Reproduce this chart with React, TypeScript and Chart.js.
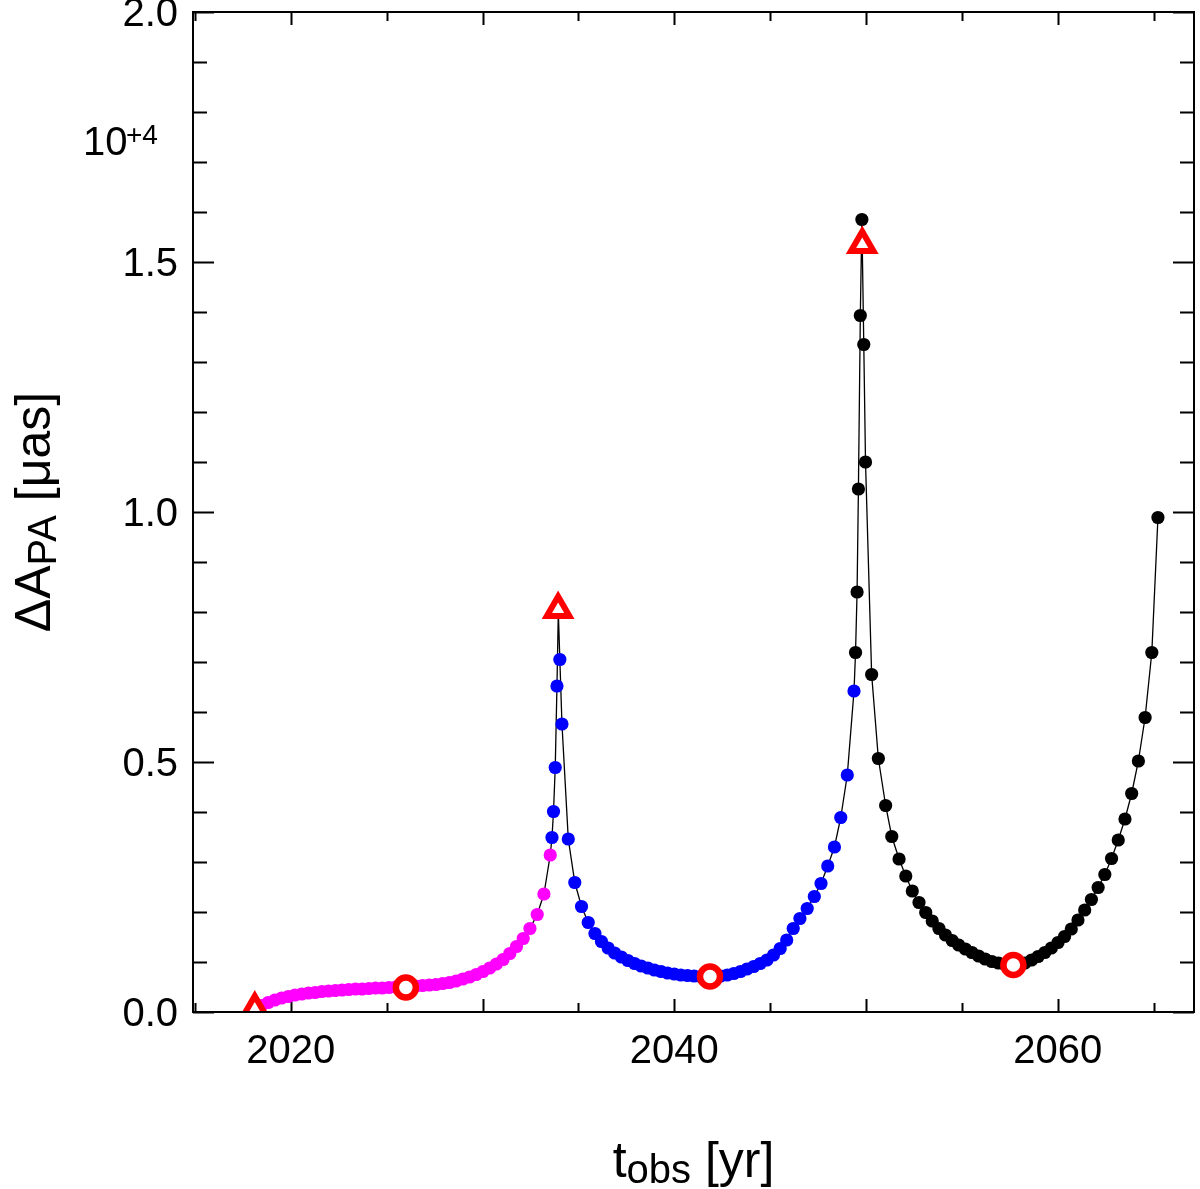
import { useEffect, useRef } from 'react';
import { Chart, registerables } from 'chart.js';

Chart.register(...registerables);

// Observation epochs t_obs [yr] and position-angle shift ΔA_PA [10^4 µas]
// First orbit segment (magenta)
const magentaT = [
  2018.12, 2018.47, 2018.82, 2019.17, 2019.52, 2019.87, 2020.22, 2020.57, 2020.92, 2021.27,
  2021.62, 2021.97, 2022.32, 2022.67, 2023.02, 2023.37, 2023.72, 2024.07, 2024.42, 2024.77,
  2025.12, 2025.47, 2025.82, 2026.17, 2026.52, 2026.87, 2027.22, 2027.57, 2027.92, 2028.27,
  2028.62, 2028.97, 2029.32, 2029.67, 2030.02, 2030.37, 2030.72, 2031.07, 2031.42, 2031.77,
  2032.12, 2032.47, 2032.85, 2033.2, 2033.53,
];
const magentaV = [
  0.007, 0.013, 0.019, 0.024, 0.028, 0.031, 0.034, 0.036, 0.038, 0.039,
  0.041, 0.042, 0.043, 0.044, 0.045, 0.046, 0.046, 0.047, 0.048, 0.048,
  0.049, 0.05, 0.05, 0.051, 0.052, 0.053, 0.054, 0.055, 0.057, 0.059,
  0.062, 0.066, 0.07, 0.075, 0.081, 0.088, 0.096, 0.105, 0.117, 0.131,
  0.147, 0.167, 0.195, 0.236, 0.314,
];

// Second orbit segment (blue)
const blueT = [
  2033.62, 2033.7, 2033.79, 2033.88, 2033.95, 2034.03, 2034.14, 2034.47, 2034.81, 2035.16,
  2035.51, 2035.86, 2036.2, 2036.55, 2036.89, 2037.24, 2037.58, 2037.93, 2038.27, 2038.62,
  2038.96, 2039.31, 2039.65, 2040.0, 2040.34, 2040.69, 2041.03, 2041.38, 2041.72, 2042.07,
  2042.41, 2042.76, 2043.1, 2043.45, 2043.79, 2044.14, 2044.48, 2044.83, 2045.17, 2045.52,
  2045.86, 2046.2, 2046.55, 2046.93, 2047.3, 2047.65, 2048.0, 2048.35, 2048.68, 2049.02,
  2049.37,
];
const blueV = [
  0.349, 0.401, 0.489, 0.652, 0.8, 0.705, 0.576, 0.346, 0.259, 0.211,
  0.179, 0.157, 0.141, 0.128, 0.118, 0.11, 0.103, 0.097, 0.092, 0.088,
  0.084, 0.081, 0.078, 0.076, 0.074, 0.073, 0.072, 0.071, 0.071, 0.071,
  0.072, 0.074, 0.077, 0.081, 0.086, 0.091, 0.097, 0.104, 0.114, 0.127,
  0.144, 0.167, 0.187, 0.207, 0.231, 0.257, 0.292, 0.33, 0.389, 0.474,
  0.642,
];

// Third orbit segment (black)
const blackT = [
  2049.45, 2049.53, 2049.6, 2049.7, 2049.78, 2049.88, 2049.97, 2050.29, 2050.64, 2051.02,
  2051.34, 2051.72, 2052.07, 2052.41, 2052.76, 2053.11, 2053.45, 2053.8, 2054.14, 2054.49,
  2054.83, 2055.18, 2055.52, 2055.87, 2056.21, 2056.56, 2056.9, 2057.25, 2057.59, 2057.94,
  2058.28, 2058.63, 2058.97, 2059.32, 2059.66, 2060.01, 2060.35, 2060.7, 2061.05, 2061.4,
  2061.75, 2062.1, 2062.45, 2062.8, 2063.15, 2063.5, 2063.85, 2064.2, 2064.55, 2064.9,
  2065.22,
];
const blackV = [
  0.719, 0.84, 1.046, 1.393, 1.585, 1.335, 1.1, 0.675, 0.507, 0.413,
  0.351, 0.306, 0.272, 0.242, 0.219, 0.199, 0.182, 0.167, 0.154, 0.143,
  0.134, 0.126, 0.119, 0.112, 0.106, 0.101, 0.098, 0.095, 0.094, 0.095,
  0.098, 0.104, 0.111, 0.119, 0.128, 0.139, 0.151, 0.166, 0.184, 0.204,
  0.225, 0.249, 0.275, 0.307, 0.344, 0.386, 0.437, 0.502, 0.589, 0.719,
  0.989,
];

// Pericentre passages (triangles) and apocentre passages (circles)
const periT = [2018.12, 2033.94, 2049.8];
const periV = [0.006, 0.805, 1.535];
const apoT = [2026.0, 2041.86, 2057.68];
const apoV = [0.049, 0.071, 0.094];

// Axis ranges and labelled ticks
const xRange = [2014.9, 2067.1];
const yRange = [0, 2.0];
const xTickLabels = [2020, 2040, 2060];
const yTickLabels = [0.0, 0.5, 1.0, 1.5, 2.0];

const FONT = '"Liberation Sans", Arial, Helvetica, sans-serif';

const pts = (t: number[], v: number[]) => t.map((x, i) => ({ x, y: v[i] }));

// Inward tick marks on all four sides plus the frame
const axisDecor = {
  id: 'axisDecor',
  beforeDatasetsDraw(chart: any) {
    const { ctx, chartArea: a, scales } = chart;
    const x = scales.x;
    const y = scales.y;
    ctx.save();
    ctx.strokeStyle = '#000';
    ctx.lineWidth = 2;
    ctx.beginPath();
    const k0 = Math.ceil(x.min / 5);
    const k1 = Math.floor(x.max / 5);
    for (let k = k0; k <= k1; k++) {
      const v = k * 5;
      const px = Math.round(x.getPixelForValue(v)) + 0.5;
      const len = v % 10 === 0 ? 13 : 9;
      ctx.moveTo(px, a.bottom);
      ctx.lineTo(px, a.bottom - len);
      ctx.moveTo(px, a.top);
      ctx.lineTo(px, a.top + len);
    }
    for (let k = 0; k <= 20; k++) {
      const py = Math.round(y.getPixelForValue(k / 10)) + 0.5;
      const len = k % 5 === 0 ? 21 : 14;
      ctx.moveTo(a.left, py);
      ctx.lineTo(a.left + len, py);
      ctx.moveTo(a.right, py);
      ctx.lineTo(a.right - len, py);
    }
    ctx.stroke();
    ctx.restore();
  },
  afterDatasetsDraw(chart: any) {
    const { ctx, chartArea: a } = chart;
    ctx.save();
    ctx.strokeStyle = '#000';
    ctx.lineWidth = 2;
    ctx.strokeRect(a.left, a.top, a.right - a.left, a.bottom - a.top);
    ctx.restore();
  },
};

// Draws a run of [text, size, shift] pieces along the baseline
function drawRun(ctx: CanvasRenderingContext2D, parts: [string, number, number][], startX: number) {
  let cx = startX;
  for (const [txt, size, shift] of parts) {
    ctx.font = `${size}px ${FONT}`;
    ctx.fillText(txt, cx, shift);
    cx += ctx.measureText(txt).width;
  }
}
function runWidth(ctx: CanvasRenderingContext2D, parts: [string, number, number][]) {
  let w = 0;
  for (const [txt, size] of parts) {
    ctx.font = `${size}px ${FONT}`;
    w += ctx.measureText(txt).width;
  }
  return w;
}

// Axis titles and the 10^+4 multiplier
const titles = {
  id: 'titles',
  afterDraw(chart: any) {
    const { ctx, chartArea: a } = chart;
    ctx.save();
    ctx.fillStyle = '#000';
    ctx.textBaseline = 'alphabetic';
    ctx.textAlign = 'left';

    // multiplier
    ctx.font = `40px ${FONT}`;
    ctx.fillText('10', 83, 155);
    ctx.font = `28px ${FONT}`;
    ctx.fillText('+4', 126, 144);

    // x title
    const xParts: [string, number, number][] = [
      ['t', 50, 0],
      ['obs', 40, 6],
      [' [yr]', 50, 0],
    ];
    const xw = runWidth(ctx, xParts);
    ctx.save();
    ctx.translate((a.left + a.right) / 2, 1177);
    drawRun(ctx, xParts, -xw / 2);
    ctx.restore();

    // y title
    const yParts: [string, number, number][] = [
      ['ΔA', 50, 0],
      ['PA', 40, 6],
      [' [μas]', 50, 0],
    ];
    const yw = runWidth(ctx, yParts);
    ctx.save();
    ctx.translate(50, (a.top + a.bottom) / 2);
    ctx.rotate(-Math.PI / 2);
    drawRun(ctx, yParts, -yw / 2);
    ctx.restore();

    ctx.restore();
  },
};

export default function App() {
  const ref = useRef<HTMLCanvasElement | null>(null);

  useEffect(() => {
    if (!ref.current) return;
    const dots = (data: any[], color: string) => ({
      data,
      showLine: false,
      pointRadius: 6.6,
      pointBorderWidth: 0,
      pointBackgroundColor: color,
      pointBorderColor: color,
      clip: 0,
      order: 2,
    });
    const track = [
      ...pts(magentaT, magentaV),
      ...pts(blueT, blueV),
      ...pts(blackT, blackV),
    ];
    const chart = new Chart(ref.current, {
      type: 'scatter',
      data: {
        datasets: [
          {
            data: pts(periT, periV),
            showLine: false,
            pointStyle: 'triangle',
            pointRadius: 13,
            pointBorderWidth: 6,
            pointBorderColor: '#ff0000',
            pointBackgroundColor: '#ffffff',
            clip: 0,
            order: 0,
          } as any,
          {
            data: pts(apoT, apoV),
            showLine: false,
            pointStyle: 'circle',
            pointRadius: 10,
            pointBorderWidth: 6.5,
            pointBorderColor: '#ff0000',
            pointBackgroundColor: '#ffffff',
            clip: 0,
            order: 0,
          } as any,
          dots(pts(magentaT, magentaV), '#ff00ff') as any,
          dots(pts(blueT, blueV), '#0000ff') as any,
          dots(pts(blackT, blackV), '#000000') as any,
          {
            data: track,
            showLine: true,
            borderColor: '#000000',
            borderWidth: 1.3,
            pointRadius: 0,
            tension: 0,
            clip: 0,
            order: 5,
          } as any,
        ],
      },
      options: {
        responsive: false,
        animation: false,
        devicePixelRatio: 1,
        events: [],
        layout: { autoPadding: false, padding: { left: 8, top: 12, right: 6, bottom: 0 } },
        plugins: {
          legend: { display: false },
          tooltip: { enabled: false },
        },
        scales: {
          x: {
            type: 'linear',
            min: xRange[0],
            max: xRange[1],
            grid: { display: false, drawTicks: false },
            border: { display: false },
            afterBuildTicks: (s: any) => {
              s.ticks = xTickLabels.map((value) => ({ value }));
            },
            afterFit: (s: any) => {
              s.height = 177;
              s.paddingLeft = 0;
              s.paddingRight = 0;
            },
            ticks: {
              color: '#000',
              padding: 16,
              maxRotation: 0,
              autoSkip: false,
              font: { family: FONT, size: 40 },
              callback: (v: any) => String(v),
            },
          },
          y: {
            type: 'linear',
            min: yRange[0],
            max: yRange[1],
            grid: { display: false, drawTicks: false },
            border: { display: false },
            afterBuildTicks: (s: any) => {
              s.ticks = yTickLabels.map((value) => ({ value }));
            },
            afterFit: (s: any) => {
              s.width = 185;
              s.paddingTop = 0;
              s.paddingBottom = 0;
            },
            ticks: {
              color: '#000',
              padding: 15,
              labelOffset: 3,
              autoSkip: false,
              font: { family: FONT, size: 40 },
              callback: (v: any) => Number(v).toFixed(1),
            },
          },
        },
      } as any,
      plugins: [axisDecor, titles],
    });
    return () => chart.destroy();
  }, []);

  return (
    <div style={{ position: 'absolute', left: 0, top: 0, width: 1200, height: 1189, background: '#fff' }}>
      <canvas ref={ref} width={1200} height={1189} style={{ display: 'block' }} />
    </div>
  );
}
